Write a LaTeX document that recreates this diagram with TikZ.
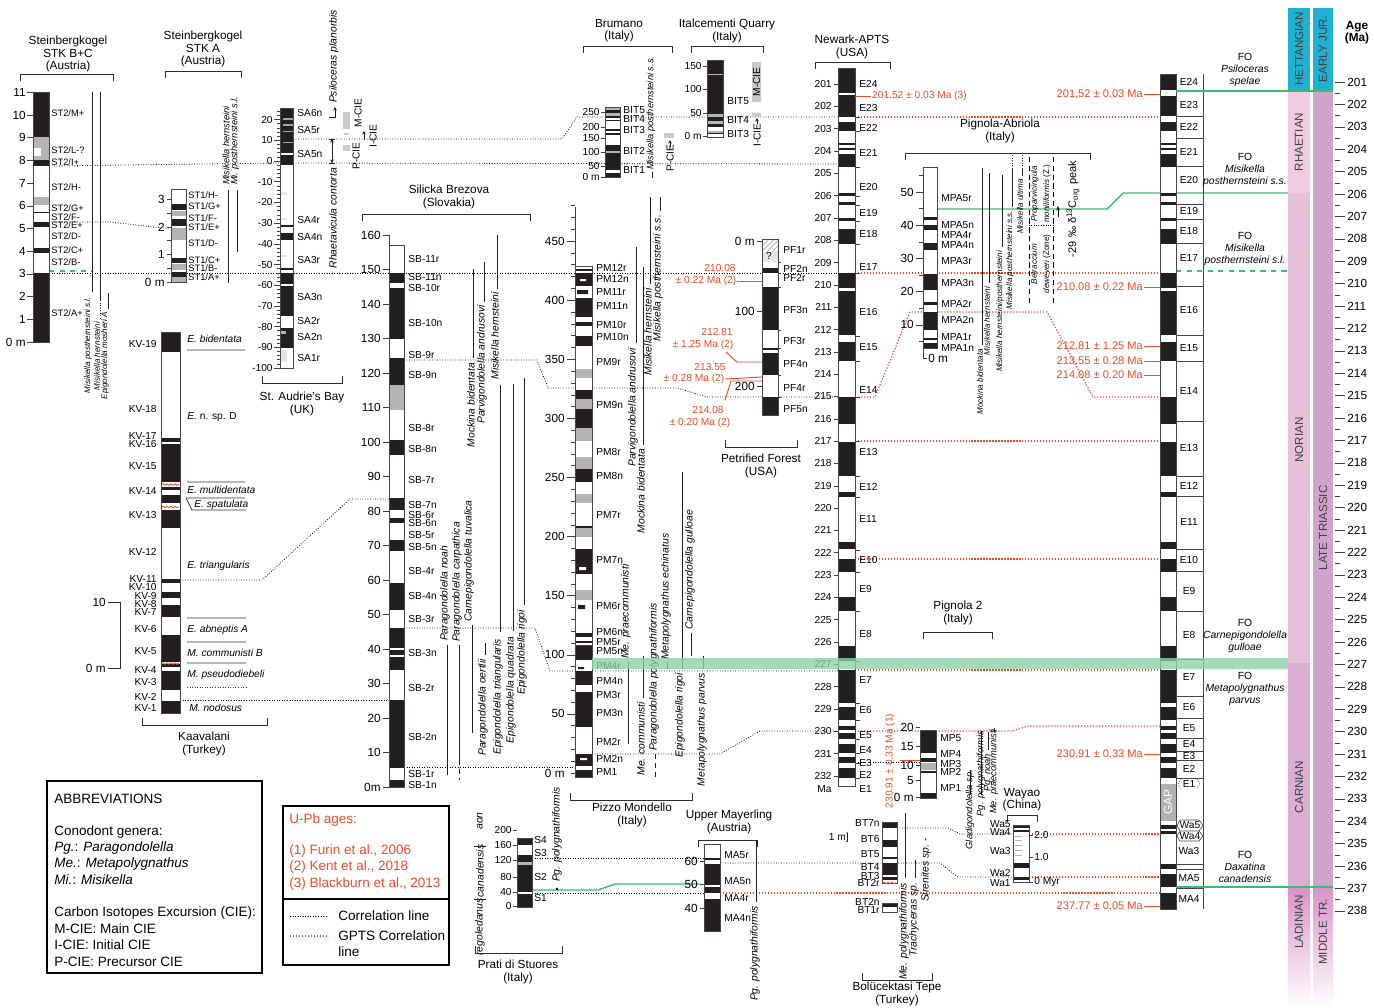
\documentclass[tikz,border=0pt]{standalone}
\usepackage{fontspec}
\setmainfont{Liberation Sans}
\usetikzlibrary{arrows.meta,decorations.pathmorphing,patterns}
\definecolor{ink}{HTML}{231F20}
\definecolor{midgray}{HTML}{B4B4B4}
\definecolor{agered}{HTML}{EE4B2B}
\definecolor{fogreen}{HTML}{3DBB6E}
\definecolor{greenband}{HTML}{8ED1A6}
\definecolor{hett}{HTML}{1FB0D2}
\definecolor{rhae}{HTML}{F0CCE0}
\definecolor{nori}{HTML}{E7C1DB}
\definecolor{carn}{HTML}{DBAED2}
\definecolor{latetr}{HTML}{D0A3CB}
\definecolor{ladin}{HTML}{D993C8}
\newcommand\ttlf{\fontsize{6.7}{7}\selectfont}
\newcommand\lblf{\fontsize{5.8}{6.4}\selectfont}
\newcommand\stkf{\fontsize{5.3}{6}\selectfont}
\newcommand\rngf{\fontsize{5.9}{6.6}\selectfont\itshape}
\newcommand\rngs{\fontsize{4.6}{5.2}\selectfont\itshape}
\newcommand\rngb{\fontsize{5.3}{6}\selectfont\itshape}
\newcommand\legf{\fontsize{7.7}{8.4}\selectfont}
\newcommand\gptsbands{122/131,143/145,148/150,154/167,193/196,202/205,218/221,229/244,273/288,291/335,342/361,397/424,442/476,492/497,542/549,559/572,597/611,646/661,670/703,707/720,726/730,733/739,744/753,757/763,768/778}
\newcommand\topbrk[3]{\draw[brk] (#1,#3+7)--(#1,#3)--(#2,#3)--(#2,#3+7);}
\newcommand\botbrk[3]{\draw[brk] (#1,#3-7)--(#1,#3)--(#2,#3)--(#2,#3-7);}
\begin{document}
\begin{tikzpicture}[x=0.02cm,y=-0.02cm,>=Latex,
  every node/.style={font=\lblf,inner sep=0.6pt},
  ttl/.style={font=\ttlf,align=center},
  colline/.style={draw=gray!55!black,line width=0.35pt},
  brk/.style={draw=gray!35!black,line width=0.45pt},
  tick/.style={draw=gray!50!black,line width=0.3pt},
  rng/.style={font=\rngf,rotate=90,inner sep=0.4pt},
  rline/.style={draw=gray!25!black,line width=0.45pt},
  zone/.style={font=\lblf\itshape,anchor=west},
  zline/.style={draw=gray!40!black,line width=0.45pt},
  corr/.style={densely dotted,line width=0.45pt},
  gpts/.style={densely dotted,agered,line width=0.7pt},
  age/.style={font=\lblf,text=agered,inner sep=0.5pt},
  redlead/.style={agered,line width=0.55pt},
  fo/.style={font=\fontsize{5.9}{6.9}\selectfont,align=center},
  stage/.style={font=\fontsize{6.6}{6.6}\selectfont,rotate=90,text=black!75},
  wavy/.style={agered,line width=0.45pt,decorate,decoration={snake,amplitude=0.45pt,segment length=2.2pt}},
  legtxt/.style={font=\legf,anchor=west,inner sep=0pt}]
\useasboundingbox (0,0) rectangle (1374,1008);
\draw[corr] (49,166)--(280,163) (293,163)--(838,164);
\draw[corr] (293,139)--(562,139)--(577,117)--(838,117);
\draw[corr] (49,273)--(838,273);
\draw[corr] (49,222)--(110,222)--(163,228)--(171,228);
\draw[corr] (404,360)--(537,360)--(548,388)--(677,388)--(707,397)--(838,397);
\draw[corr] (404,628)--(535,628)--(550,671)--(838,671);
\draw[corr] (404,767)--(575,767);
\draw[corr] (592,754)--(720,754)--(760,731)--(838,731);
\draw[corr] (180,700)--(389,700);
\draw[corr] (180,580)--(262,580)--(350,499)--(389,499);
\draw[corr] (855,762)--(920,762);
\draw[corr] (532,858)--(704,858) (532,893)--(704,893);
\draw[corr] (720,863)--(940,863)--(958,877)--(1013,877);
\draw[corr] (897,828)--(948,828)--(960,834)--(1013,834);
\draw[gpts] (855,117)--(1160,117) (855,273)--(1160,273) (855,441)--(1160,441) (855,559)--(1160,559) (855,670)--(1160,670);
\draw[gpts] (855,397)--(875,397)--(910,312)--(1047,312)--(1093,397)--(1160,397);
\draw[gpts] (855,731)--(1013,731)--(1028,726)--(1160,726);
\draw[gpts] (1029,834)--(1160,834) (1029,877)--(1160,877) (720,893)--(1160,893);
\draw[fogreen,line width=0.8pt] (937,209)--(1107,209)--(1123,193)--(1310,193);
\draw[fogreen,line width=0.8pt] (532,890)--(598,890)--(615,884)--(700,884);
\draw[fogreen,dashed,line width=0.7pt] (49,271)--(92,271) (1176,271)--(1288,271);
\node[ttl] (stkbc) at (68,54) {Steinbergkogel\\STK B+C\\(Austria)};
\topbrk{20}{113}{74}
\fill[white] (33,92) rectangle (49,342);
\foreach \a/\b in {92/137,160/166,211.5/213,222/227,248/253,273/342} \fill[ink] (33,\a) rectangle (49,\b);
\foreach \a/\b in {137/160,197/205} \fill[midgray] (33,\a) rectangle (49,\b);
\fill[white] (34,148) rectangle (41,156); \draw[colline] (33,92) rectangle (49,342);
\foreach \m in {0,...,11} \draw[tick] (27,342-22.7*\m)--(33,342-22.7*\m);
\foreach \m in {1,...,11} \node[anchor=east,font=\ttlf] at (27,342-22.7*\m) {\m};
\node[anchor=east,font=\ttlf] at (27,342) {0 m};
\foreach \t/\y in {M+/113,L-?/150,I+/162,H-/187,G+/208.5,F-/217,E+/225.5,D-/236,C+/250,B-/262,A+/313} \node[anchor=west,font=\stkf] at (50,\y) {ST2/\t};
\draw[rline] (92,92)--(92,292) (100,92)--(100,300) (108,293)--(108,309); \draw[rline,densely dotted] (100,300)--(100,318);
\node[rng,font=\rngs,anchor=east] (stkps) at (88,296) {Misikella posthernsteini s.l.};
\node[rng,font=\rngs,anchor=east] (stkhe) at (97,321) {Misikella hernsteini};
\node[rng,font=\rngs,anchor=east] (stkmo) at (105,311) {Epigondolella mosheri A};
\node[ttl] (stka) at (203,49) {Steinbergkogel\\STK A\\(Austria)};
\topbrk{165}{241}{71}
\fill[white] (171,189) rectangle (186,282);
\foreach \a/\b in {204/210,219/226,258/263,272/277} \fill[ink] (171,\a) rectangle (186,\b);
\foreach \a/\b in {211/216,228/240,264/270,277/282} \fill[midgray] (171,\a) rectangle (186,\b);
\draw[colline] (171,189) rectangle (186,282);
\foreach \m in {0,0.5,...,3} \draw[tick] (167,282-27.5*\m)--(171,282-27.5*\m);
\foreach \m/\t in {0/0 m,1/1,2/2,3/3} \node[anchor=east,font=\ttlf] at (166,282-27.5*\m) {\t};
\foreach \t/\y in {H-/195,G+/206,F-/218,E+/227,D-/243,C+/260,B-/268,A+/277} \node[anchor=west,font=\stkf] at (187,\y) {ST1/\t};
\draw[rline] (228,190)--(228,283) (237,190)--(237,252);
\node[rng,font=\rngb,anchor=west] (stkahe) at (226,186) {Misikella hernsteini};
\node[rng,font=\rngb,anchor=west] (stkaps) at (235,186) {Mi. posthernsteini s.l.};
\fill[white] (161,332) rectangle (180,713);
\foreach \a/\b in {332/352,438/442,444/482,487/490,495/503,510/528,579/583,592/598,605/617,635/662,664/667,671/690,701/713} \fill[ink] (161,\a) rectangle (180,\b);
\draw[colline] (161,332) rectangle (180,713);
\foreach \y in {484.5,507,663.5} \draw[wavy] (162,\y)--(179,\y);
\foreach \t/\y in {19/344,18/409,17/436,16/444,15/466,14/491,13/515,12/552,11/579,10/587,9/596,8/604,7/612,6/629,5/651,4/670,3/682,2/697,1/708} \node[anchor=east] at (158,\y) {KV-\t};
\node[zone] at (186,339) {E. bidentata}; \node[zone] at (186,417) {E. \upshape n. sp. D};
\node[zone] at (186,490) {E. multidentata}; \node[zone] at (193,505) {E. spatulata};
\node[zone] at (186,566) {E. triangularis}; \node[zone] at (186,630) {E. abneptis A};
\node[zone] at (186,653) {M. communisti B}; \node[zone] at (186,675) {M. pseudodiebeli}; \node[zone] at (188,708) {M. nodosus};
\draw[zline] (187,350)--(245,350) (187,482)--(245,482) (186,498)--(245,498) (186,498)--(192,510)--(246,510) (187,618)--(246,618) (187,642)--(246,642) (187,663)--(246,663);
\draw[zline,densely dotted] (187,687)--(246,687);
\draw[brk] (108,602)--(120,602)--(120,668)--(108,668);
\node[anchor=east,font=\ttlf] at (107,602) {10}; \node[anchor=east,font=\ttlf] at (107,668) {0 m};
\botbrk{142}{267}{725}
\node[ttl] (kvt) at (204,744) {Kaavalani\\(Turkey)};
\fill[white] (280,108) rectangle (293,368);
\foreach \a/\b in {108/153,155/165,225/227,233/240,268/270,273/284,286/316,328/348} \fill[ink] (280,\a) rectangle (293,\b);
\foreach \a/\b in {118/119.5,124/125.5,131/132,142/143} \fill[gray!70] (283,\a) rectangle (293,\b);
\foreach \a/\b in {192/195,218/220,255/257,350/362} \fill[gray!20] (281,\a) rectangle (287,\b);
\fill[gray!60] (281,331) rectangle (286,334); \draw[colline] (280,108) rectangle (293,368);
\foreach \v in {-100,-98,...,24} \draw[tick] (277,161-2.07*\v)--(280,161-2.07*\v);
\foreach \v in {20,10,...,-100} {\draw[tick] (274,161-2.07*\v)--(280,161-2.07*\v); \node[anchor=east] at (274,161-2.07*\v) {\v};}
\foreach \t/\y in {6n/113,5r/130,5n/154,4r/220,4n/237,3r/260,3n/297,2r/321,2n/337,1r/358} \node[anchor=west] at (296,\y) {SA\t};
\node[rng,anchor=west] (sapl) at (334,104) {Psiloceras planorbis};
\draw[rline,-{Stealth[length=2pt,width=2pt]}] (329,117)--(335,117)--(335,107);
\draw[rline,{Stealth[length=2pt,width=2pt]}-{Stealth[length=2pt,width=2pt]}] (332,139)--(332,163); \draw[rline] (329,139)--(335,139) (329,163)--(335,163);
\node[rng,anchor=east] (sarc) at (333,167) {Rhaetavicula contorta};
\fill[midgray!70] (343,112) rectangle (350,129); \fill[midgray!70] (344,133) rectangle (349,134.5); \fill[midgray!70] (343,145) rectangle (350,151);
\node[rotate=90] at (358,113) {M-CIE}; \node[rotate=90] at (373,136) {I-CIE}; \node[rotate=90] at (356,156) {P-CIE};
\draw[rline,-{Stealth[length=2pt,width=2pt]}] (364,140)--(364,131);
\botbrk{262}{342}{383}
\node[ttl] (sat) at (302,404) {St. Audrie's Bay\\(UK)};
\node[ttl] (silt) at (449,197) {Silicka Brezova\\(Slovakia)};
\topbrk{362}{530}{214}
\fill[white] (389,245) rectangle (404,787);
\foreach \a/\b in {273/283,288/339,358/385,440/455,498/510,518/523,540/551,583/610,628/648,650/655,657/670,700/768,780/787} \fill[ink] (389,\a) rectangle (404,\b);
\fill[midgray] (389,385) rectangle (404,410); \draw[colline] (389,245) rectangle (404,787);
\draw[tick] (383,235)--(389,235)--(389,245);
\foreach \v in {0,10,...,150} \draw[tick] (383,787-3.45*\v)--(389,787-3.45*\v);
\foreach \v in {10,20,...,160} \node[anchor=east,font=\ttlf] at (382,787-3.45*\v) {\v};
\node[anchor=east,font=\ttlf] at (382,787) {0m};
\foreach \t/\y in {11r/259,11n/277,10r/288,10n/323,9r/355,9n/375,8r/428,8n/449,7r/480,7n/505,6r/515,6n/523,5r/535,5n/547,4r/571,4n/596,3r/619,3n/653,2r/688,2n/737,1r/774,1n/785} \node[anchor=west] at (407,\y) {SB-\t};
\draw[rline] (473,269)--(473,358) (484,262)--(484,302) (497,235)--(497,289);
\node[rng,anchor=east] at (471,362) {Mockina bidentata}; \node[rng,anchor=east] at (482,304) {Parvigondolella andrusovi}; \node[rng,anchor=east] at (495,291) {Misikella hernsteini};
\draw[rline] (500,385)--(500,632) (513,384)--(513,631) (524,378)--(524,605) (447,645)--(447,775) (459,645)--(459,760) (472,625)--(472,733) (485,643)--(485,655);
\draw[rline,densely dashed] (459,760)--(459,780);
\node[rng,anchor=east] at (498,638) {Epigondolella triangularis}; \node[rng,anchor=east] at (511,636) {Epigondolella quadrata}; \node[rng,anchor=east] at (522,609) {Epigondolella rigoi};
\node[rng,anchor=west] at (445,642) {Paragondolella noah}; \node[rng,anchor=west] at (457,643) {Paragondolella carpathica}; \node[rng,anchor=west] at (469,623) {Carnepigondolella tuvalica};
\node[rng,anchor=east] at (483,658) {Paragondolella oertlii};
\fill[white] (575,266) rectangle (592,777);
\foreach \a/\b in {269/271,273/286,298/317,322/326,336/346,390/399,409/428,469/482,526/528,549/574,633/637,641/660,671/685,692/727,754/766,770/777} \fill[ink] (575,\a) rectangle (592,\b);
\foreach \a/\b in {369/378,399/409,428/441,457/469,494/503,528/537,590/600} \fill[midgray] (575,\a) rectangle (592,\b);
\fill[white] (580,279) rectangle (586,281) (579,567) rectangle (586,570) (575,643) rectangle (592,645) (580,758) rectangle (587,760);
\fill[ink] (577,290) rectangle (588,294) (578,605) rectangle (585,609) (578,667) rectangle (584,669);
\draw[colline] (575,266) rectangle (592,777); \draw[tick] (575,207)--(575,266);
\foreach \v in {0,10,...,480} \draw[tick] (571,773-1.182*\v)--(575,773-1.182*\v);
\foreach \v in {50,100,...,450} {\draw[tick] (567,773-1.182*\v)--(575,773-1.182*\v); \node[anchor=east,font=\ttlf] at (566,773-1.182*\v) {\v};}
\node[anchor=east,font=\ttlf] at (566,773) {0 m};
\foreach \t/\y in {12r/268,12n/279,11r/292,11n/306,10r/325,10n/337,9r/362,9n/405,8r/452,8n/476,7r/515,7n/560,6r/606,6n/632,5r/642,5n/651,4r/666,4n/681,3r/695,3n/713,2r/742,2n/759,1/772} \node[anchor=west] at (595,\y) {PM\t};
\draw[rline] (636,247)--(636,343) (643,267)--(643,445) (650,197)--(650,284) (660,197)--(660,211);
\node[rng,anchor=east] at (633,347) {Parvigondolella andrusovi}; \node[rng,anchor=east] at (641,448) {Mockina bidentata};
\node[rng,anchor=east] at (648,287) {Misikella hernsteini}; \node[rng,anchor=east] at (658,214) {Misikella posthernsteini s.s.};
\draw[rline] (628,662)--(628,744) (643,656)--(643,698) (667,662)--(667,669) (682,472)--(682,669) (691,633)--(691,656) (703,656)--(703,669);
\draw[rline,densely dashed] (655,754)--(655,779);
\node[rng,anchor=west] at (626,660) {Me. praecommunisti}; \node[rng,anchor=east] at (641,701) {Me. communisti};
\node[rng,anchor=west] at (654,752) {Paragondolella polygnathiformis}; \node[rng,anchor=west] at (666,661) {Metapolygnathus echinatus};
\node[rng,anchor=east] at (680,672) {Epigondolella rigoi}; \node[rng,anchor=west] at (690,631) {Carnepigondolella gulloae}; \node[rng,anchor=east] at (702,672) {Metapolygnathus parvus};
\botbrk{570}{692}{800}
\node[ttl] (pmt) at (632,815) {Pizzo Mondello\\(Italy)};
\node[ttl] (brut) at (619,31) {Brumano\\(Italy)};
\topbrk{583}{672}{46}
\fill[white] (605,107) rectangle (620,177);
\foreach \a/\b in {110/113,116/118,120/121,129/131,133/135,145/170,173/177} \fill[ink] (605,\a) rectangle (620,\b);
\foreach \a/\b in {107/110,113/116,151/152.5} \fill[midgray] (605,\a) rectangle (620,\b);
\draw[colline] (605,107) rectangle (620,177);
\foreach \v/\y in {250/112,200/127,150/138,100/152,50/166,0 m/177} {\draw[tick] (601,\y)--(605,\y); \node[anchor=east] at (601,\y) {\v};}
\foreach \t/\y in {5/110,4/119,3/130,2/151,1/170} \node[anchor=west] at (622,\y) {BIT\t};
\draw[rline] (652,172)--(652,178); \node[rng,font=\rngb,anchor=west] at (651,171) {Misikella posthernsteini s.s.};
\fill[midgray!70] (664,133) rectangle (674,138); \node[rotate=90,anchor=west] at (670,173) {P-CIE}; \draw[rline,-{Stealth[length=2pt,width=2pt]}] (670,147)--(670,140);
\node[ttl] (itat) at (727,31) {Italcementi Quarry\\(Italy)};
\topbrk{691}{763}{46}
\fill[white] (707,60) rectangle (723,137);
\foreach \a/\b in {60/114,117/121,124/127,133/134} \fill[ink] (707,\a) rectangle (723,\b);
\foreach \a/\b in {74/75,114/117,121/124,131/133} \fill[midgray] (707,\a) rectangle (723,\b);
\draw[colline] (707,60) rectangle (723,137);
\foreach \v/\y in {150/66,100/89,50/113,0 m/136} {\draw[tick] (703,\y)--(707,\y); \node[anchor=east] at (703,\y) {\v};}
\foreach \t/\y in {5/101,4/120,3/134} \node[anchor=west] at (726,\y) {BIT\t};
\fill[midgray!70] (752,62) rectangle (761,102) (752,113) rectangle (761,116.5);
\node[rotate=90] at (756.5,82) {M-CIE}; \node[rotate=90,anchor=west] at (757,148) {I-CIE}; \draw[rline,-{Stealth[length=2pt,width=2pt]}] (757,124)--(757,118);
\fill[white] (762,239) rectangle (778,415);
\fill[pattern=north east lines,pattern color=gray!70] (762,239) rectangle (778,252); \fill[gray!20] (762,252) rectangle (778,262);
\node at (769,256) {?};
\foreach \a/\b in {268/273,287/330,348/350,353/375,397/415} \fill[ink] (762,\a) rectangle (778,\b);
\draw[colline] (762,239) rectangle (778,415);
\foreach \v/\y in {0 m/241,100/311,200/386} {\draw[tick] (757,\y)--(762,\y); \node[anchor=east,font=\ttlf] at (756,\y) {\v};}
\foreach \y in {262,273,287,330,348,375,397} \draw[tick] (778,\y)--(781,\y);
\foreach \t/\y in {1r/250,2n/269,2r/278,3n/310,3r/341,4n/364,4r/388,5n/409} \node[anchor=west] at (782,\y) {PF\t};
\botbrk{725}{797}{447}
\node[ttl] (pft) at (761,466) {Petrified Forest\\(USA)};
\node[age] (a210) at (720,268) {210.08}; \node[age] (a210b) at (706,281) {± 0.22 Ma (2)}; \draw[redlead] (a210b.east)--(762,281);
\node[age] (a212) at (717,332) {212.81}; \node[age] (a212b) at (703,345) {± 1.25 Ma (2)}; \draw[redlead] (726,352)--(737,362)--(762,362);
\node[age] (a213) at (710,367) {213.55}; \node[age] (a213b) at (694,379) {± 0.28 Ma (2)}; \draw[redlead] (a213b.east)--(762,377) (725,400)--(731,381)--(762,381);
\node[age] (a214) at (708,410) {214.08}; \node[age] (a214b) at (700,423) {± 0.20 Ma (2)};
\node[ttl] (newt) at (852,47) {Newark-APTS\\(USA)};
\topbrk{815}{890}{62}
\fill[white] (838,68) rectangle (855,786);
\foreach \a/\b in {68/93,95/117} \fill[ink] (838,\a) rectangle (855,\b);
\foreach \a/\b in \gptsbands \fill[ink] (838,\a) rectangle (855,\b);
\draw[colline] (838,68) rectangle (855,786);
\foreach \a in {201,...,232} {\pgfmathsetmacro\yy{84+22.32*(\a-201)} \draw[tick] (834,\yy)--(838,\yy); \node[anchor=east] at (833,\yy) {\a};}
\node[anchor=east] at (833,789) {Ma};
\foreach \y in {117,131,167,196,205,221,244,273,336,361,397,441,476,497,550,572,611,661,703,720,739,753,763,778} \draw[tick] (855,\y)--(860,\y);
\foreach \t/\y in {24/84,23/108,22/128,21/153,20/187,19/213,18/234,17/267,16/312,15/347,14/390,13/452,12/487,11/519,10/560,9/589,8/634,7/680,6/710,5/735,4/750,3/763,2/775,1/789} \node[anchor=west] at (858,\y) {E\t};
\node[age,anchor=west] (a201n) at (871,96) {201.52 ± 0.03 Ma (3)}; \draw[redlead] (855,96)--(a201n.west);
\node[ttl] (pat) at (1000,131) {Pignola-Abriola\\(Italy)};
\topbrk{905}{1090}{153}
\fill[white] (923,167) rectangle (937,348);
\foreach \a/\b in {217/220,225/230,243/250,274/290,302/305,312/330,338/340,343/348} \fill[ink] (923,\a) rectangle (937,\b);
\draw[colline] (923,167) rectangle (937,348); \draw[tick] (923,348)--(923,358)--(927,358);
\foreach \v in {5,10,...,55} \draw[tick] (919,358-3.32*\v)--(923,358-3.32*\v);
\foreach \v in {10,20,...,50} {\draw[tick] (916,358-3.32*\v)--(923,358-3.32*\v); \node[anchor=east,font=\ttlf] at (915,358-3.32*\v) {\v};}
\node[anchor=west,font=\ttlf] at (927,358) {0 m};
\foreach \t/\y in {5r/198,5n/225,4r/235,4n/245,3r/261,3n/283,2r/304,2n/320,1r/337,1n/348} \node[anchor=west] at (940,\y) {MPA\t};
\draw[rline] (982,168)--(982,345) (989,173)--(989,283) (1002,175)--(1002,247) (1012,168)--(1012,207) (1022,168)--(1022,176);
\draw[rline,densely dotted] (1012,155)--(1012,168) (1022,155)--(1022,168);
\node[rng,font=\rngs,anchor=east] at (980,348) {Mockina bidentata}; \node[rng,font=\rngs,anchor=east] at (987,286) {Misikella hernsteini};
\node[rng,font=\rngs,anchor=east] at (1000,250) {Misikella hernsteini/posthernsteini}; \node[rng,font=\rngs,anchor=east] at (1010,210) {Misikella posthernsteini s.s.};
\node[rng,font=\rngs,anchor=east] at (1020,178) {Misikella ultima};
\draw[densely dashed,line width=0.35pt] (1029,157)--(1029,303) (1053,157)--(1053,303); \draw[densely dotted,line width=0.35pt] (1029,225)--(1053,225);
\node[rotate=90,align=center,font=\fontsize{4.6}{7}\selectfont] at (1041,194) {\textit{Proparvicingula}\\\textit{moniliformis} (Z.)};
\node[rotate=90,align=center,font=\fontsize{4.6}{7}\selectfont] at (1041,264) {\textit{Betraccium}\\\textit{deweveri} (Zone)};
\draw[line width=0.4pt,-{Stealth[length=2.5pt,width=2pt]}] (1058,217)--(1058,206);
\node[rotate=90,font=\fontsize{6.3}{7}\selectfont] (c13) at (1073,209) {-29 ‰ δ\textsuperscript{13}C\textsubscript{org} peak};
\node[ttl] (p2t) at (958,613) {Pignola 2\\(Italy)};
\topbrk{923}{992}{632}
\fill[white] (920,730) rectangle (936,798);
\foreach \a/\b in {730/753,758/762,771/773,793/798} \fill[ink] (920,\a) rectangle (936,\b);
\fill[midgray] (920,763) rectangle (936,770); \draw[colline] (920,730) rectangle (936,798);
\foreach \v/\y in {20/727,15/746,10/765,5/780,0 m/797} {\draw[tick] (916,\y)--(920,\y); \node[anchor=east,font=\ttlf] at (915,\y) {\v};}
\foreach \t/\y in {5/738,4/754,3/764,2/772,1/788} \node[anchor=west] at (939,\y) {MP\t};
\draw[rline] (970,770)--(970,795) (981,732)--(981,795) (988,732)--(988,750) (994,728)--(994,732);
\node[rng,font=\rngb,anchor=east] at (970,769) {Gladigondolella sp.}; \node[rng,font=\rngb,anchor=east] at (981,730) {Pg. polygnathiformis};
\node[rng,font=\rngb,anchor=west] at (988,793) {Pg. noah}; \node[rng,font=\rngb,anchor=east] at (994,728) {Me. praecommunisti};
\node[age,rotate=90] (a230r) at (890,761) {230.91 ± 0.33 Ma (1)}; \draw[redlead] (900,760)--(920,760);
\fill[white] (882,822) rectangle (897,883);
\foreach \a/\b in {822/828,840/847,857/859,863/875,877/880} \fill[ink] (882,\a) rectangle (897,\b);
\draw[colline] (882,822) rectangle (897,883); \draw[wavy] (883,883)--(896,883);
\fill[white] (882,903) rectangle (897,912); \fill[ink] (882,903) rectangle (897,907); \draw[colline] (882,903) rectangle (897,912);
\foreach \t/\y in {BT7n/823,BT6/839,BT5/854,BT4/867,BT3/876,BT2r/883,BT2n/902,BT1r/910} \node[anchor=east] at (881,\y) {\t};
\node[anchor=east] at (850,838) {1 m]};
\draw[rline] (905,813)--(905,878) (915,860)--(915,878);
\node[rng,anchor=east] at (904,882) {Me. polygnathiformis}; \node[rng,anchor=east] at (914,882) {Trachyceras sp.}; \node[rng,anchor=west] at (926,903) {Sirenites sp. -};
\botbrk{862}{932}{980}
\node[ttl] (btt) at (897,994) {Bolücektasi Tepe\\(Turkey)};
\node[ttl] (wat) at (1022,800) {Wayao\\(China)};
\topbrk{1007}{1037}{815}
\fill[white] (1013,825) rectangle (1029,882);
\foreach \a/\b in {826/828,829.5/832,863/868,877/880} \fill[ink] (1013,\a) rectangle (1029,\b);
\foreach \y in {836,840,845,850,855} \draw[gray!60,line width=0.5pt] (1015,\y)--(1022,\y);
\draw[colline] (1013,825) rectangle (1029,882);
\foreach \t/\y in {Wa5/824,Wa4/832,Wa3/851,Wa2/873,Wa1/883} \node[anchor=east] at (1012,\y) {\t};
\foreach \t/\y in {2.0/835,1.0/857,0 Myr/882} {\draw[tick] (1029,\y)--(1033,\y); \node[anchor=west] at (1033,\y) {\t};}
\fill[white] (704,844) rectangle (720,931);
\foreach \a/\b in {858/860,864/885,887/893,899/931} \fill[ink] (704,\a) rectangle (720,\b);
\draw[colline] (704,844) rectangle (720,931);
\foreach \v/\y in {60/861,50/884,40/908} {\draw[tick] (700,\y)--(704,\y); \node[anchor=east,font=\ttlf] at (699,\y) {\v};}
\foreach \t/\y in {5r/855,5n/881,4r/898,4n/918} \node[anchor=west] at (723,\y) {MA\t};
\topbrk{698}{757}{840}
\node[ttl] (umt) at (729,822) {Upper Mayerling\\(Austria)};
\draw[rline] (756,840)--(756,902); \node[rng,anchor=east] at (755,905) {Pg. polygnathiformis};
\fill[white] (517,838) rectangle (532,907);
\foreach \a/\b in {838/845,855/862,865/892,893.5/907} \fill[ink] (517,\a) rectangle (532,\b);
\fill[midgray] (517,862) rectangle (532,865); \draw[colline] (517,838) rectangle (532,907);
\foreach \v/\y in {200/830,160/845,120/860,80/877,40/892,0/906} {\draw[tick] (513,\y)--(517,\y); \node[anchor=east] at (513,\y) {\v};}
\foreach \t/\y in {4/840,3/853,2/877,1/898} \node[anchor=west] at (533,\y) {S\t};
\node[rng,anchor=center] at (480,927) {regoledanus}; \node[rng,anchor=center] at (480,871) {canadensis}; \node[rng,anchor=center] at (480,821) {aon};
\draw[rline] (474,899)--(486,899) (474,846)--(486,846);
\node[rng,anchor=west] at (557,883) {Pg. polygnathiformis}; \fill (557,889) circle (1.4);
\botbrk{475}{562}{953}
\node[ttl] (prt) at (518,972) {Prati di Stuores\\(Italy)};
\fill[white] (1160,74) rectangle (1176,909);
\foreach \a/\b in {74/90,96/116,825/829,831/834,864/869,874/887,893/909} \fill[ink] (1160,\a) rectangle (1176,\b);
\foreach \a/\b in \gptsbands \fill[ink] (1160,\a) rectangle (1176,\b);
\fill[gray!60] (1160,784) rectangle (1176,821); \node[rotate=90,text=white,font=\ttlf] at (1168,802.5) {GAP};
\draw[colline] (1160,74) rectangle (1176,909) (1203,74)--(1203,909);
\foreach \y in {90,116,138,166,204,219,243,286,335,361,421,476,496,549,571,611,659,696,718,738,751,760,778,864,869,888} \draw[colline] (1176,\y)--(1203,\y);
\foreach \t/\y in {E24/82,E23/105,E22/127,E21/152,E20/180,E19/211,E18/231,E17/258,E16/310,E15/348,E14/391,E13/448,E12/486,E11/522,E10/560,E9/591,E8/635,E7/677,E6/707,E5/728,E4/744,E3/756,E2/769,Wa3/851,MA5/878,MA4/899} \node at (1189,\y) {\t};
\node at (1189,784) {E1}; \draw[densely dotted,gray!50!black] (1181,779)--(1178,784)--(1181,790) (1197,779)--(1200,784)--(1197,790);
\draw[colline] (1180,820)--(1199,820)--(1203,825.5)--(1199,831)--(1180,831)--(1177,825.5)--cycle (1180,831)--(1199,831)--(1203,836)--(1199,841)--(1180,841)--(1177,836)--cycle;
\node at (1190,825.5) {Wa5}; \node at (1190,836) {Wa4};
\node[fo] (fo1) at (1245,70) {FO\\\textit{Psiloceras}\\\textit{spelae}}; \node[fo] (fo2) at (1245,170) {FO\\\textit{Misikella}\\\textit{posthernsteini s.s.}};
\node[fo] (fo3) at (1245,249) {FO\\\textit{Misikella}\\\textit{posthernsteini s.l.}}; \node[fo] (fo4) at (1245,636) {FO\\\textit{Carnepigondolella}\\\textit{gulloae}};
\node[fo] (fo5) at (1245,689) {FO\\\textit{Metapolygnathus}\\\textit{parvus}}; \node[fo] (fo6) at (1245,867) {FO\\\textit{Daxatina}\\\textit{canadensis}};
\foreach \t/\y/\n in {201.52 ± 0.03 Ma/94/r1,210.08 ± 0.22 Ma/287/r2,212.81 ± 1.25 Ma/346/r3,213.55 ± 0.28 Ma/361/r4,214.08 ± 0.20 Ma/375/r5,230.91 ± 0.33 Ma/754/r6,237.77 ± 0.05 Ma/906/r7} {\node[age,font=\fontsize{6.3}{7}\selectfont,anchor=east] (\n) at (1144,\y) {\t}; \draw[redlead] (\n.east)--(1160,\y);}
\fill[hett] (1288,8) rectangle (1310,91); \fill[rhae] (1288,91) rectangle (1310,193); \fill[nori] (1288,193) rectangle (1310,663); \fill[carn] (1288,663) rectangle (1310,887);
\shade[top color=ladin,bottom color=white] (1288,887) rectangle (1310,1008);
\fill[hett] (1313,8) rectangle (1333,91); \fill[latetr] (1313,91) rectangle (1333,887);
\shade[top color=ladin,bottom color=white] (1313,887) rectangle (1333,1008);
\draw[gray!50,line width=0.3pt] (1288,663)--(1310,663);
\node[stage] at (1299,49) {HETTANGIAN}; \node[stage] at (1299,142) {RHAETIAN}; \node[stage] at (1299,440) {NORIAN}; \node[stage] at (1299,787) {CARNIAN}; \node[stage] at (1299,922) {LADINIAN};
\node[stage] at (1323,49) {EARLY JUR.}; \node[stage] at (1323,528) {LATE TRIASSIC}; \node[stage] at (1323,932) {MIDDLE TR.};
\draw[fogreen,line width=0.8pt] (1176,91)--(1333,91) (1176,887)--(1333,887);
\foreach \a in {201,...,238} {\pgfmathsetmacro\yy{82+22.4*(\a-201)} \draw[tick] (1335,\yy)--(1345,\yy); \node[anchor=west,font=\ttlf] at (1346,\yy) {\a};}
\foreach \a in {201,...,237} {\pgfmathsetmacro\yy{93.2+22.4*(\a-201)} \draw[tick] (1335,\yy)--(1340,\yy);}
\node[font=\ttlf\bfseries,align=center] (aget) at (1357,33) {Age\\(Ma)};
\fill[greenband,fill opacity=0.8] (592,658) rectangle (1288,669);
\draw[line width=0.8pt] (47,781) rectangle (262,973);
\foreach \t/\y in {ABBREVIATIONS/799,Conodont genera:/832,\textit{Pg.}: \textit{Paragondolella}/848,\textit{Me.}: \textit{Metapolygnathus}/864,\textit{Mi.}: \textit{Misikella}/880,Carbon Isotopes Excursion (CIE):/913,M-CIE: Main CIE/929,I-CIE: Initial CIE/945,P-CIE: Precursor CIE/962} \node[legtxt] at (54,\y) {\t};
\draw[line width=0.8pt] (283,806) rectangle (449,965) (283,899)--(449,899);
\foreach \t/\y in {U-Pb ages:/820,{(1) Furin et al., 2006}/851,{(2) Kent et al., 2018}/867,{(3) Blackburn et al., 2013}/884} \node[legtxt,text=agered] at (289,\y) {\t};
\draw[corr] (290,916)--(328,916); \draw[gpts] (290,936)--(328,936);
\node[legtxt] (lcorr) at (338,916) {Correlation line}; \node[legtxt] (lgpts) at (338,936) {GPTS Correlation}; \node[legtxt] at (338,952) {line};
\end{tikzpicture}
\end{document}
